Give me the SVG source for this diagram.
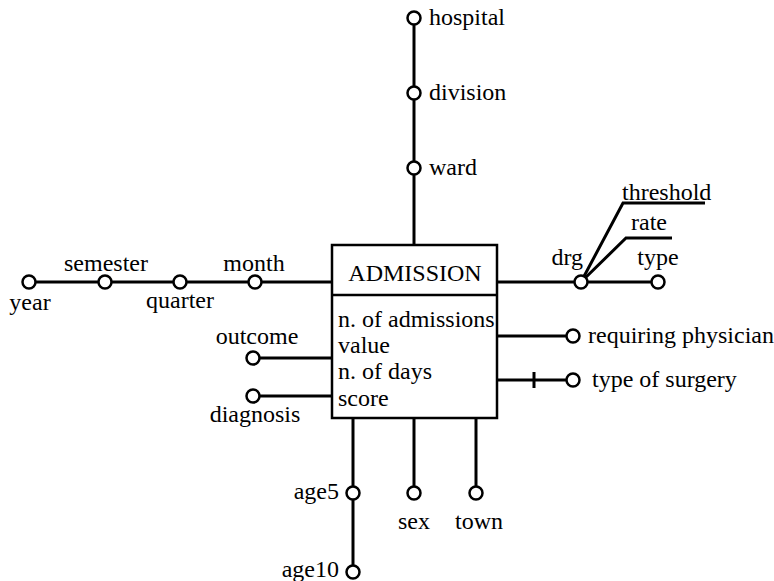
<svg xmlns="http://www.w3.org/2000/svg" width="774" height="581" viewBox="0 0 774 581" font-family="Liberation Serif" font-size="24">
<style>
text{font-family:'Liberation Serif',serif;font-size:24px;fill:#000}
.l{stroke:#000;stroke-width:3;fill:none}
.c{stroke:#000;stroke-width:2.5;fill:#fff}
.m{text-anchor:middle}
.e{text-anchor:end}
</style>
<rect width="774" height="581" fill="#fff"/>
<g id="connectors">
<line class="l" x1="414" y1="18" x2="414" y2="245"/>
<line class="l" x1="30" y1="282" x2="332" y2="282"/>
<line class="l" x1="497" y1="282" x2="658" y2="282"/>
<polyline class="l" points="581,282 623,203 705,203"/>
<polyline class="l" points="581,282 626,238 672,238"/>
<line class="l" x1="497" y1="336" x2="573" y2="336"/>
<line class="l" x1="497" y1="380" x2="573" y2="380"/>
<line class="l" x1="534" y1="372" x2="534" y2="388"/>
<line class="l" x1="253" y1="358" x2="332" y2="358"/>
<line class="l" x1="253" y1="396" x2="332" y2="396"/>
<line class="l" x1="353" y1="418" x2="353" y2="572"/>
<line class="l" x1="414" y1="418" x2="414" y2="493"/>
<line class="l" x1="476" y1="418" x2="476" y2="493"/>
</g>
<g id="admission">
<rect x="332" y="245" width="165" height="173" fill="#fff" stroke="#000" stroke-width="2.5"/>
<line x1="332" y1="295" x2="497" y2="295" stroke="#000" stroke-width="2.5"/>
<text class="m" x="415" y="281">ADMISSION</text>
<text x="338" y="327">n. of admissions</text>
<text x="338" y="353">value</text>
<text x="338" y="379">n. of days</text>
<text x="338" y="406">score</text>
</g>
<g id="hospital"><circle class="c" cx="414" cy="18" r="6.5"/><text x="429" y="25">hospital</text></g>
<g id="division"><circle class="c" cx="414" cy="93" r="6.5"/><text x="429" y="100">division</text></g>
<g id="ward"><circle class="c" cx="414" cy="168" r="6.5"/><text x="429" y="175">ward</text></g>
<g id="year"><circle class="c" cx="29" cy="282" r="6.5"/><text class="m" x="30" y="310">year</text></g>
<g id="semester"><circle class="c" cx="105" cy="282" r="6.5"/><text class="m" x="106" y="271">semester</text></g>
<g id="quarter"><circle class="c" cx="180" cy="282" r="6.5"/><text class="m" x="180" y="308">quarter</text></g>
<g id="month"><circle class="c" cx="255" cy="282" r="6.5"/><text class="m" x="254" y="271">month</text></g>
<g id="drg"><circle class="c" cx="581" cy="282" r="6.5"/><text class="e" x="583" y="265">drg</text></g>
<g id="type"><circle class="c" cx="658" cy="282" r="6.5"/><text class="m" x="658" y="265">type</text></g>
<g id="threshold"><text x="622" y="200">threshold</text></g>
<g id="rate"><text x="631" y="230">rate</text></g>
<g id="requiring-physician"><circle class="c" cx="573" cy="336" r="6.5"/><text x="588" y="343">requiring physician</text></g>
<g id="type-of-surgery"><circle class="c" cx="573" cy="380" r="6.5"/><text x="592" y="387">type of surgery</text></g>
<g id="outcome"><circle class="c" cx="253" cy="358" r="6.5"/><text class="m" x="257" y="344">outcome</text></g>
<g id="diagnosis"><circle class="c" cx="253" cy="396" r="6.5"/><text class="m" x="255" y="422">diagnosis</text></g>
<g id="age5"><circle class="c" cx="353" cy="493" r="6.5"/><text class="e" x="339" y="499">age5</text></g>
<g id="age10"><circle class="c" cx="353" cy="572" r="6.5"/><text class="e" x="339" y="577">age10</text></g>
<g id="sex"><circle class="c" cx="414" cy="493" r="6.5"/><text class="m" x="414" y="529">sex</text></g>
<g id="town"><circle class="c" cx="476" cy="493" r="6.5"/><text class="m" x="479" y="529">town</text></g>
</svg>
